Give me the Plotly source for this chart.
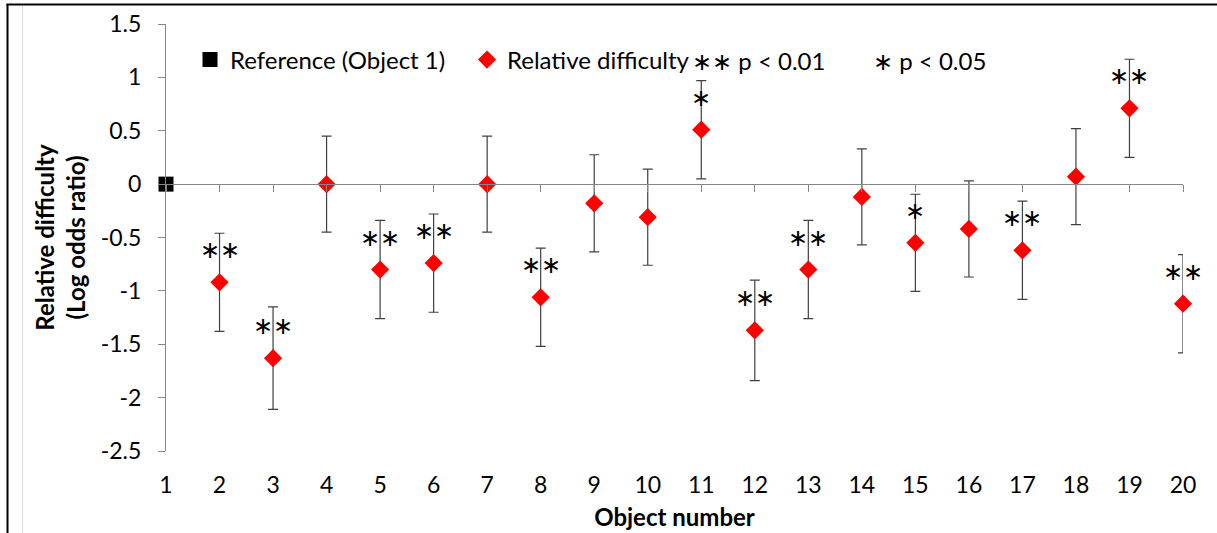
import plotly.graph_objects as go

# ---- data ----
objects = list(range(2, 21))
difficulty = [-0.92, -1.63, 0.0, -0.80, -0.74, 0.0, -1.06, -0.18, -0.31, 0.51,
              -1.37, -0.80, -0.12, -0.55, -0.42, -0.62, 0.07, 0.71, -1.12]
err = [0.46, 0.48, 0.45, 0.46, 0.46, 0.45, 0.46, 0.455, 0.45, 0.46,
       0.47, 0.46, 0.45, 0.455, 0.45, 0.46, 0.45, 0.46, 0.46]
signif = ["∗∗", "∗∗", "", "∗∗", "∗∗", "", "∗∗", "", "", "∗",
          "∗∗", "∗∗", "", "∗", "", "∗∗", "", "∗∗", "∗∗"]
ref_x = [1]
ref_y = [0]
y_ticks = [1.5, 1, 0.5, 0, -0.5, -1, -1.5, -2, -2.5]
y_ticktext = ["1.5", "1", "0.5", "0", "-0.5", "-1", "-1.5", "-2", "-2.5"]
x_ticks = list(range(1, 21))

W, H = 1217, 533
ML, MR, MT, MB = 166, 34, 24, 82
YMIN, YMAX = -2.5, 1.5
FONT = "Lato"

fig = go.Figure()

fig.add_trace(go.Scatter(
    x=ref_x, y=ref_y, xaxis="x2", mode="markers", name="Reference (Object 1)",
    marker=dict(symbol="square", size=15, color="black"), cliponaxis=False))

fig.add_trace(go.Scatter(
    x=objects, y=difficulty, mode="markers", name="Relative difficulty",
    marker=dict(symbol="diamond", size=14, color="#ff0000"),
    error_y=dict(type="data", array=err, visible=True, color="#404040",
                 thickness=1.2, width=5),
    cliponaxis=False))

for xv, yv, s in zip(objects, difficulty, signif):
    if s:
        fig.add_annotation(x=xv, y=yv, text=s, showarrow=False, yshift=32,
                           font=dict(family="DejaVu Sans", size=24, color="black"))

pw = W - ML - MR
ph = H - MT - MB


def px_x(p):
    return (p - ML) / pw


def px_y(p):
    return (H - MB - p) / ph


# legend star keys
fig.add_annotation(xref="paper", yref="paper", x=px_x(690), y=px_y(61),
                   xanchor="left", yanchor="middle",
                   text="<span style='font-family:DejaVu Sans;font-size:24px'>∗∗</span> p &lt; 0.01",
                   showarrow=False, font=dict(family=FONT, size=24, color="black"))
fig.add_annotation(xref="paper", yref="paper", x=px_x(871), y=px_y(61),
                   xanchor="left", yanchor="middle",
                   text="<span style='font-family:DejaVu Sans;font-size:24px'>∗</span> p &lt; 0.05",
                   showarrow=False, font=dict(family=FONT, size=24, color="black"))

# frame decorations
fig.add_shape(type="line", xref="paper", yref="paper", x0=px_x(7.5), x1=px_x(7.5),
              y0=px_y(4), y1=px_y(533), line=dict(color="black", width=2))
fig.add_shape(type="line", xref="paper", yref="paper", x0=px_x(6.5), x1=px_x(1217),
              y0=px_y(4.5), y1=px_y(4.5), line=dict(color="black", width=2))
fig.add_shape(type="line", xref="paper", yref="paper", x0=px_x(22.5), x1=px_x(22.5),
              y0=px_y(6), y1=px_y(533), line=dict(color="#d9d9d9", width=1))

zero_pos = (0 - YMIN) / (YMAX - YMIN)

fig.update_layout(
    width=W, height=H,
    margin=dict(l=ML, r=MR, t=MT, b=MB),
    paper_bgcolor="white", plot_bgcolor="white",
    font=dict(family=FONT, size=23, color="black"),
    showlegend=True,
    legend=dict(orientation="h", x=px_x(190), y=px_y(60), xanchor="left", yanchor="middle",
                font=dict(family=FONT, size=24, color="black"), bgcolor="rgba(0,0,0,0)",
                entrywidth=232, entrywidthmode="pixels", itemwidth=30),
    xaxis=dict(range=[1, 20], tickvals=x_ticks, ticktext=[str(v) for v in x_ticks],
               showline=False, showgrid=False, zeroline=False, ticks="",
               ticklabelstandoff=18, automargin=False,
               title=dict(text="<b>Object number</b>", font=dict(family=FONT, size=24),
                          standoff=12),
               tickfont=dict(family=FONT, size=23)),
    xaxis2=dict(range=[1, 20], overlaying="x", anchor="free", position=zero_pos,
                side="bottom", tickvals=x_ticks, showticklabels=False,
                showline=True, linecolor="#868686", linewidth=1,
                ticks="outside", ticklen=7, tickcolor="#868686", automargin=False,
                showgrid=False, zeroline=False),
    yaxis=dict(range=[YMIN, YMAX], tickvals=y_ticks, ticktext=y_ticktext,
               showline=True, linecolor="#868686", linewidth=1,
               ticks="outside", ticklen=7, tickcolor="#868686",
               ticklabelstandoff=12, automargin=False,
               showgrid=False, zeroline=False,
               tickfont=dict(family=FONT, size=23),
               title=dict(text="<b>Relative difficulty<br>(Log odds ratio)</b>",
                          font=dict(family=FONT, size=24), standoff=8)),
)

fig.write_html("out.html")
